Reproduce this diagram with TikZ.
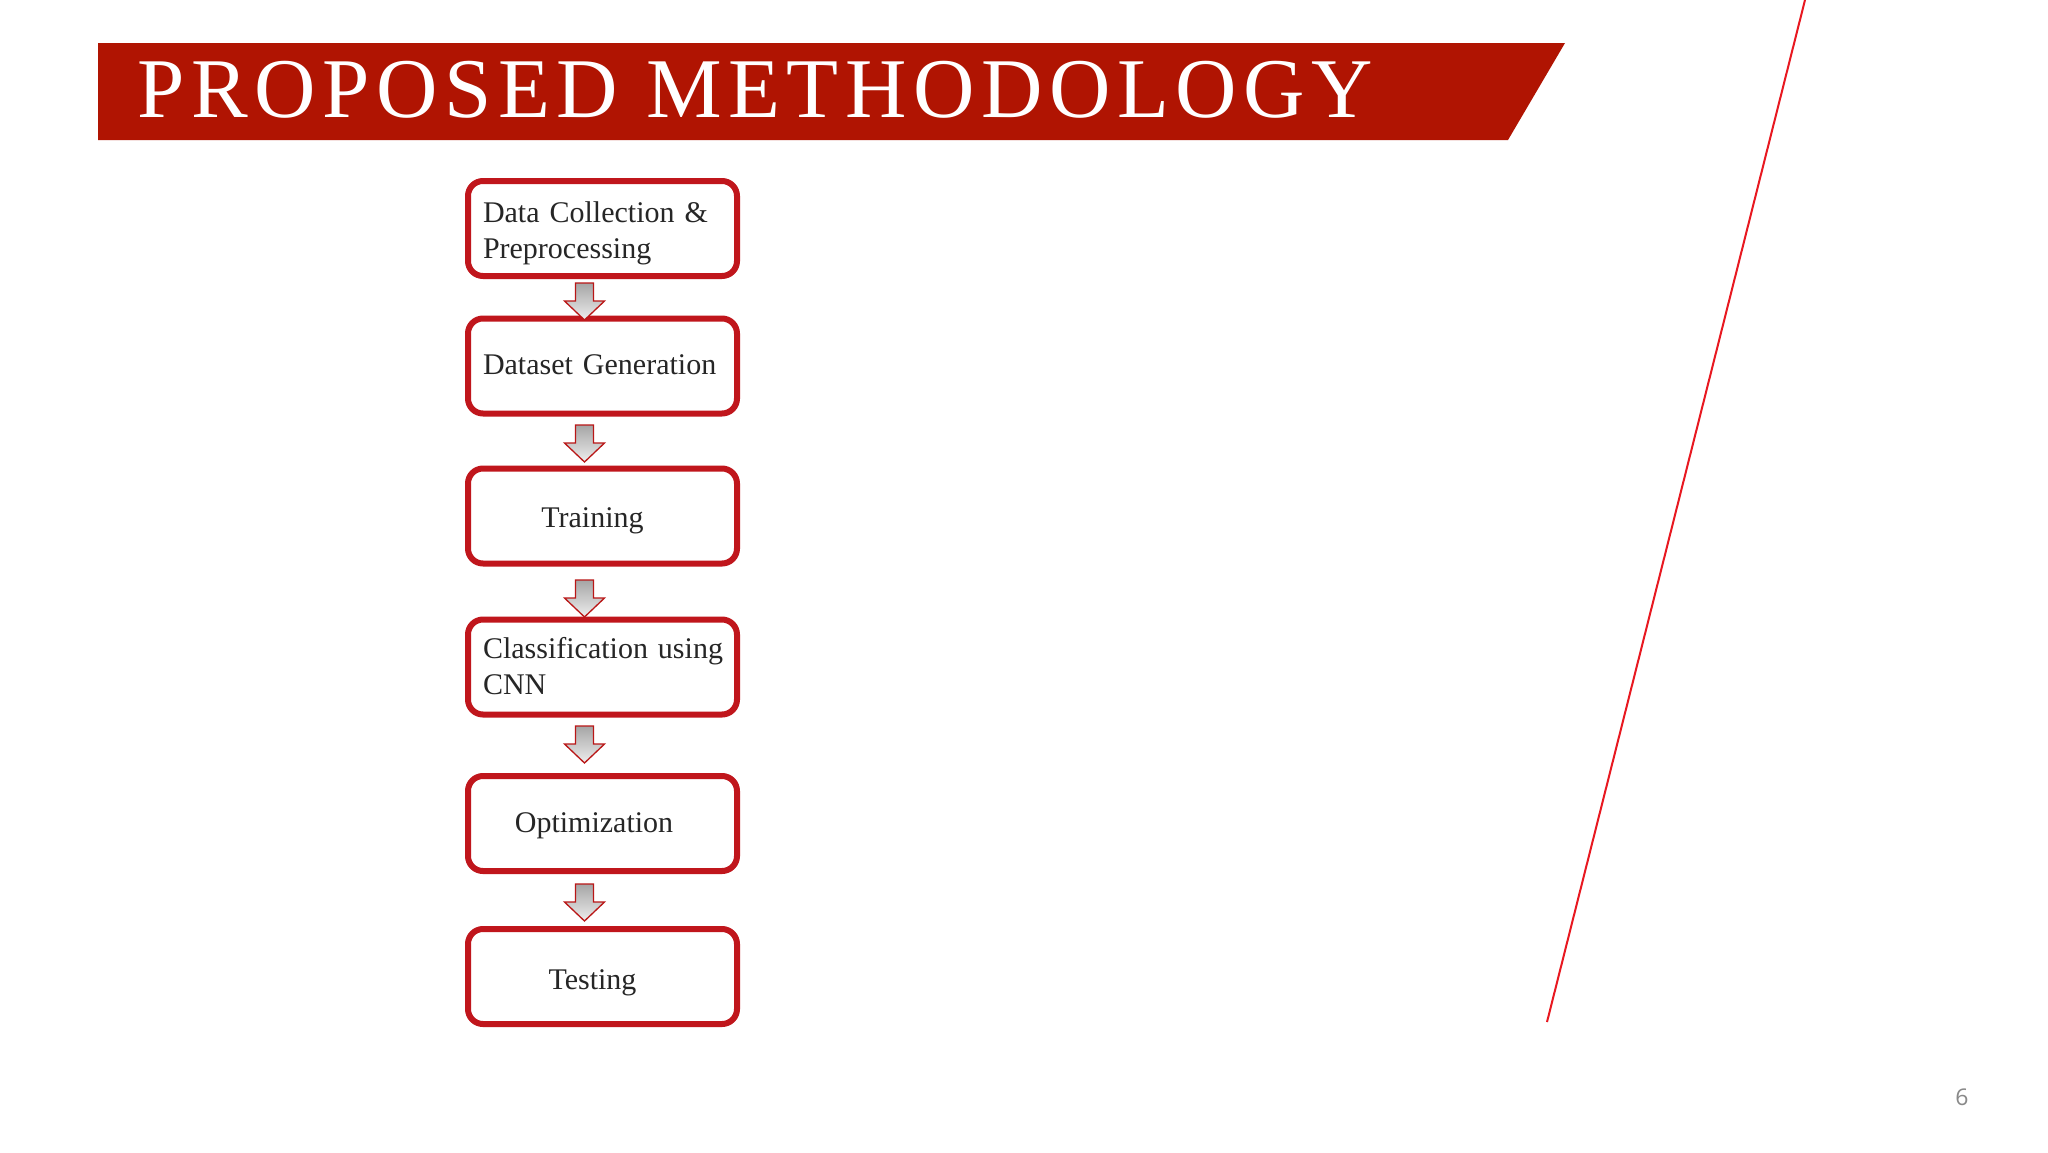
\documentclass[tikz,border=0pt]{standalone}
\usepackage{fontspec}
\setmainfont{Liberation Serif}[WordSpace=0.7]
\newfontfamily\pnfont{Open Sans}
\newfontfamily\titlefont[LetterSpace=7.8]{Liberation Serif}
\usetikzlibrary{calc}
\definecolor{banner}{RGB}{176,20,2}
\definecolor{boxred}{RGB}{192,22,28}
\definecolor{arrline}{RGB}{185,22,22}
\definecolor{linered}{RGB}{232,24,32}
\definecolor{txtgray}{RGB}{38,38,38}
\definecolor{pngray}{RGB}{137,137,137}
\definecolor{arrtop}{RGB}{165,165,165}
\definecolor{arrbot}{RGB}{238,238,238}
\newcommand\blkarrow[2]{%
  \draw[blockarr] ($(#1.south)+(-27,#2)$) -- ++(18,0) -- ++(0,18) -- ++(11,0)
    -- ++(-20,19) -- ++(-20,-19) -- ++(11,0) -- cycle;}
\begin{document}
\begin{tikzpicture}[x=1bp,y=-1bp,
  stepbox/.style={draw=boxred, line width=6bp, rounded corners=15bp, fill=white,
    minimum width=269bp, minimum height=95bp, text width=239bp, inner xsep=15bp,
    inner ysep=0pt, font=\fontsize{30bp}{36bp}\selectfont, text=txtgray},
  oneline/.style={text height=22bp, text depth=6bp},
  twoline/.style={align=left, text height=22bp, text depth=40bp},
  blockarr/.style={draw=arrline, line width=1.3bp, top color=arrtop,
    bottom color=arrbot, line join=miter}]
\fill[white] (0,0) rectangle (2048,1152);
\useasboundingbox (0,0) rectangle (2048,1152);
% title banner
\fill[banner] (98,43) -- (1565,43) -- (1508,140) -- (98,140) -- cycle;
\node[anchor=base west, text=white, inner sep=0pt,
  font=\titlefont\fontsize{85bp}{85bp}\selectfont] (title) at (137,117) {PROPOSED METHODOLOGY};
% diagonal line
\coordinate (la) at (1805,0);
\coordinate (lb) at (1547,1022);
\draw[linered, line width=2bp] (la) -- (lb);
% page number
\node[anchor=base, inner sep=0pt, text=pngray,
  font=\pnfont\fontsize{23bp}{23bp}\selectfont] (pn) at (1962,1105) {6};
% boxes
\node[stepbox, twoline, text height=28bp] (b1) at (602.5,228.5) {\mbox{Data Collection \&}\\\mbox{Preprocessing}};
\node[stepbox, oneline, align=left] (b2) at (602.5,366) {\mbox{Dataset Generation}};
\node[stepbox, oneline, text height=28bp, align=center] (b3) at (602.5,516) {Training\hspace*{20bp}};
\node[stepbox, twoline] (b4) at (602.5,667) {\mbox{Classification using}\\\mbox{CNN}};
\node[stepbox, oneline, text height=24bp, align=center] (b5) at (602.5,823.5) {Optimization\hspace*{17bp}};
\node[stepbox, oneline, text height=32bp, align=center] (b6) at (602.5,976.5) {Testing\hspace*{20bp}};
% arrows
\blkarrow{b1}{4}
\blkarrow{b2}{8.5}
\blkarrow{b3}{13.5}
\blkarrow{b4}{8.5}
\blkarrow{b5}{10}
\end{tikzpicture}
\end{document}
